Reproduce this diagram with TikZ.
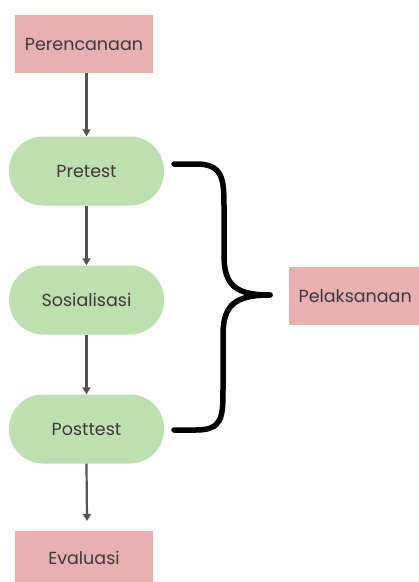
\documentclass[tikz,border=0pt]{standalone}
\usepackage{fontspec}
\setmainfont{Poppins}
\usetikzlibrary{arrows.meta}
\definecolor{pinkbox}{RGB}{232,176,176}
\definecolor{greenbox}{RGB}{190,224,176}
\definecolor{txt}{RGB}{62,56,56}
\definecolor{arr}{RGB}{85,85,85}
\begin{document}
\begin{tikzpicture}[x=1pt,y=-1pt,
  rectbox/.style={fill=pinkbox,draw=none,minimum width=138pt,minimum height=58pt,inner sep=0pt,text=txt,font=\fontsize{17.5}{20}\selectfont},
  pill/.style={fill=greenbox,draw=none,rounded corners=34pt,minimum width=155pt,minimum height=69pt,inner sep=0pt,text=txt,font=\fontsize{17.5}{20}\selectfont},
  flow/.style={draw=arr,line width=2.2pt,-{Triangle[length=7pt,width=8pt]}},
  brace/.style={draw=black,line width=5.5pt,line cap=round}]
\useasboundingbox (0,0) rectangle (419,582);
\fill[white] (0,0) rectangle (419,582);
\node[rectbox] (p1) at (84,44) {Perencanaan};
\node[pill] (p2) at (86.5,171) {Pretest};
\node[pill] (p3) at (86.5,300) {Sosialisasi};
\node[pill] (p4) at (86.5,429) {Posttest};
\node[rectbox,minimum height=54pt] (p5) at (84,558) {Evaluasi};
\node[rectbox,minimum width=140pt,anchor=west] (pl) at (289,296) {\hspace*{-8pt}Pelaksanaan};
\coordinate (e5) at (87,521);
\draw[flow] (p2.north |- p1.south) -- (p2.north);
\draw[flow] (p2.south) -- (p3.north);
\draw[flow] (p3.south) -- (p4.north);
\draw[flow] (p4.south) -- (e5);
\coordinate (bt) at (174,164);
\coordinate (bb) at (174,430);
\coordinate (tip) at (270,295);
\draw[brace] (bt) -- (196,164) .. controls (222,164) and (224,178) .. (224,205)
  -- (224,255) .. controls (224,285) and (235,295) .. (tip);
\draw[brace] (bb) -- (196,430) .. controls (222,430) and (223,418) .. (223,390)
  -- (223,335) .. controls (223,305) and (235,295) .. (tip);
\end{tikzpicture}
\end{document}
